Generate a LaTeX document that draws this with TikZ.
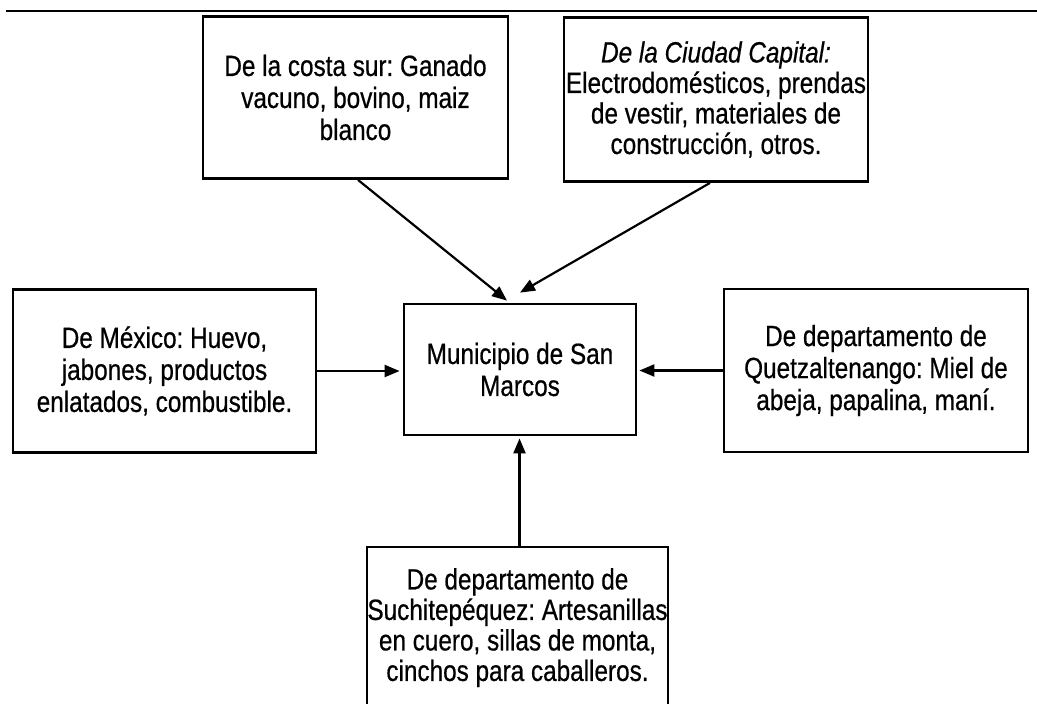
\documentclass[tikz,border=0pt]{standalone}
\usepackage{fontspec}
\setmainfont[FakeStretch=0.83,FakeBold=0.6]{Liberation Sans}
\usetikzlibrary{arrows.meta}
\frenchspacing
\tikzset{
  box/.style={draw, line width=2.8pt, rectangle, inner sep=0pt},
  txt/.style={align=center, font=\fontsize{29.3}{32}\selectfont\frenchspacing, inner sep=0pt},
  txtb/.style={align=center, font=\fontsize{29.3}{30.5}\selectfont\frenchspacing, inner sep=0pt},
  arr/.style={line width=2.2pt, -{Triangle[length=15pt,width=12pt]}},
  rule/.style={line width=2.4pt}
}
\begin{document}
\begin{tikzpicture}[x=1pt,y=-1pt]
\clip (0,0) rectangle (1037,704);
\coordinate (ruleL) at (6,11);
\coordinate (ruleR) at (1037,11);
\draw[rule] (ruleL) -- (ruleR);

\node[box, txt, minimum width=305pt, minimum height=162pt] (costa) at (355.5,97.5)
  {De la costa sur: Ganado\\vacuno, bovino, maiz\\blanco};
\node[box, txtb, minimum width=304pt, minimum height=164pt] (capital) at (716,99.5)
  {\itshape De la Ciudad Capital:\\Electrodomésticos, prendas\\de vestir, materiales de\\construcción, otros.};
\node[box, txt, minimum width=303pt, minimum height=163pt] (mex) at (164.5,371)
  {De México: Huevo,\\jabones, productos\\enlatados, combustible.};
\node[box, txt, minimum width=232pt, minimum height=131pt] (mun) at (520,369.5)
  {Municipio de San\\Marcos};
\node[box, txt, minimum width=304pt, minimum height=163pt] (quetz) at (876,370.5)
  {De departamento de\\Quetzaltenango: Miel de\\abeja, papalina, maní.};
\node[box, minimum width=301pt, minimum height=200pt] (such) at (517.5,647) {};
\node[txtb, anchor=north] (suchT) at (517.5,568)
  {De departamento de\\Suchitepéquez: Artesanillas\\en cuero, sillas de monta,\\cinchos para caballeros.};

\draw[arr] ([xshift=2.5pt]costa.south) -- ([xshift=-13pt,yshift=2pt]mun.north);
\draw[arr] ([xshift=-6pt]capital.south) -- ([yshift=10pt]mun.north);
\draw[arr, shorten >=3pt] (mex.east) -- (mex.east -| mun.west);
\draw[arr, shorten >=2pt] (quetz.west) -- (quetz.west -| mun.east);
\draw[arr, shorten >=2pt] ([xshift=2pt]such.north) -- ([xshift=2pt]such.north |- mun.south);
\end{tikzpicture}
\end{document}
